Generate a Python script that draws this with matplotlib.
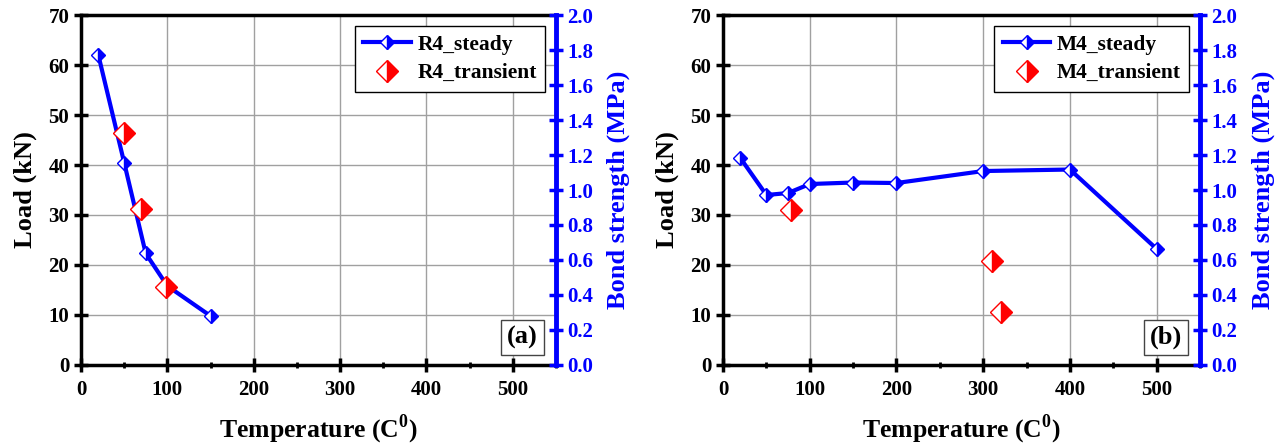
import numpy as np
import matplotlib
matplotlib.use('Agg')
import matplotlib.pyplot as plt
from matplotlib.ticker import MultipleLocator

plt.rcParams['font.family'] = ['Liberation Serif', 'DejaVu Serif']
plt.rcParams['font.weight'] = 'bold'
plt.rcParams['mathtext.fontset'] = 'custom'
plt.rcParams['mathtext.rm'] = 'Liberation Serif:bold'
plt.rcParams['mathtext.bf'] = 'Liberation Serif:bold'

# R4 specimens
r4_steady_temp = [20, 50, 75, 100, 150]
r4_steady_load = [62.1, 40.5, 22.3, 15.8, 9.8]
r4_trans_temp = [50, 70, 98]
r4_trans_load = [46.5, 31.2, 15.5]

# M4 specimens
m4_steady_temp = [20, 50, 75, 100, 150, 200, 300, 400, 500]
m4_steady_load = [41.4, 34.0, 34.4, 36.2, 36.5, 36.4, 38.8, 39.1, 23.2]
m4_trans_temp = [78, 310, 320]
m4_trans_load = [31.0, 20.8, 10.5]

LOAD_MAX = 70.0
BOND_MAX = 2.0

fig = plt.figure(figsize=(12.79, 4.45), dpi=100)


def draw_panel(rect, st_t, st_l, tr_t, tr_l, name, tag):
    ax = fig.add_axes(rect)
    ax.grid(True, color='#a0a0a0', lw=1.0, zorder=0)
    ax.set_axisbelow(True)
    ax.plot(st_t, st_l, color='blue', lw=3, marker='D', markersize=7.5,
            fillstyle='right', markerfacecolor='blue', markerfacecoloralt='white',
            markeredgecolor='blue', markeredgewidth=1.0, label=name + '_steady', zorder=3)
    ax.plot(tr_t, tr_l, ls='none', marker='D', markersize=11,
            fillstyle='right', markerfacecolor='red', markerfacecoloralt='white',
            markeredgecolor='red', markeredgewidth=1.0, label=name + '_transient', zorder=4)

    ax.set_xlim(0, 550)
    ax.set_ylim(0, LOAD_MAX)
    ax.xaxis.set_major_locator(MultipleLocator(100))
    ax.xaxis.set_minor_locator(MultipleLocator(50))
    ax.yaxis.set_major_locator(MultipleLocator(10))
    ax.tick_params(axis='both', which='major', direction='inout', length=10, width=2.5,
                   labelsize=15, top=False, right=False)
    ax.tick_params(axis='x', which='major', pad=6)
    ax.tick_params(axis='x', which='minor', direction='inout', length=5, width=2)
    for lab in ax.get_xticklabels() + ax.get_yticklabels():
        lab.set_fontweight('bold')
    for side in ['left', 'bottom', 'top']:
        ax.spines[side].set_linewidth(2.5)
        ax.spines[side].set_color('black')
    ax.spines['right'].set_visible(False)

    ax.set_xlabel('Temperature (C$^0$)', fontsize=18.5, fontweight='bold', labelpad=9)
    ax.set_ylabel('Load (kN)', fontsize=19, fontweight='bold', labelpad=8)

    leg = ax.legend(loc='upper right', fontsize=15.5, frameon=True, fancybox=False,
                    edgecolor='black', framealpha=1, borderaxespad=0.5,
                    handlelength=2.2, handletextpad=0.3, borderpad=0.4,
                    labelspacing=0.4)
    leg.get_frame().set_linewidth(1.0)
    for t in leg.get_texts():
        t.set_fontweight('bold')

    ax.text(0.962, 0.045, tag, transform=ax.transAxes, ha='right', va='bottom',
            fontsize=19, fontweight='bold',
            bbox=dict(boxstyle='square,pad=0.22', fc='white', ec='#444444', lw=1.0))

    ax2 = ax.twinx()
    ax2.set_ylim(0, BOND_MAX)
    ax2.yaxis.set_major_locator(MultipleLocator(0.2))
    ax2.yaxis.set_major_formatter(plt.FormatStrFormatter('%.1f'))
    ax2.tick_params(axis='y', direction='inout', length=10, width=2.5, colors='blue',
                    labelsize=15, pad=3)
    for lab in ax2.get_yticklabels():
        lab.set_fontweight('bold')
    for side in ['left', 'bottom', 'top']:
        ax2.spines[side].set_visible(False)
    ax2.spines['right'].set_color('blue')
    ax2.spines['right'].set_linewidth(3.5)
    ax2.set_ylabel('Bond strength (MPa)', color='blue', fontsize=19, fontweight='bold',
                   labelpad=10)
    return ax


draw_panel([0.0633, 0.180, 0.3714, 0.786], r4_steady_temp, r4_steady_load,
           r4_trans_temp, r4_trans_load, 'R4', '(a)')
draw_panel([0.5653, 0.180, 0.3730, 0.786], m4_steady_temp, m4_steady_load,
           m4_trans_temp, m4_trans_load, 'M4', '(b)')

fig.savefig('out.png', dpi=100)
